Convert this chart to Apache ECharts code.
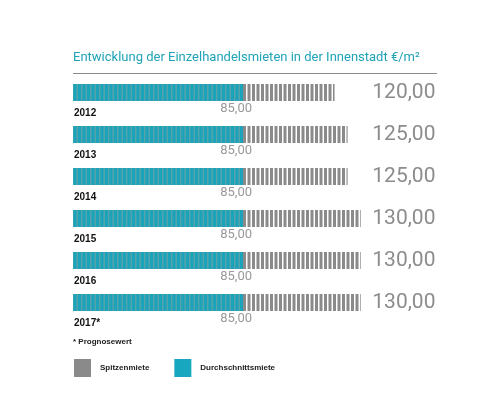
<!DOCTYPE html>
<html><head><meta charset="utf-8">
<script src="https://cdn.jsdelivr.net/npm/echarts@6/dist/echarts.min.js"></script>
<style>html,body{margin:0;padding:0;background:#fff}#c{width:488px;height:395px}</style>
</head><body><div id="c"></div>
<script>
const years = ['2012', '2013', '2014', '2015', '2016', '2017*'];
const spitzenmiete = [120, 125, 125, 130, 130, 130];
const durchschnittsmiete = [85, 85, 85, 85, 85, 85];
const titleText = 'Entwicklung der Einzelhandelsmieten in der Innenstadt €/m²';
const noteText = '* Prognosewert';

const fmt = v => v.toFixed(2).replace('.', ',');

function stripes(bg, fg, w) {
  const c = document.createElement('canvas');
  c.width = 9; c.height = 20;
  const g = c.getContext('2d');
  if (bg) { g.fillStyle = bg; g.fillRect(0, 0, 9, 20); }
  g.fillStyle = fg;
  g.fillRect(0, 0, w, 20);
  g.fillRect(4.5, 0, w, 20);
  return { image: c, repeat: 'repeat' };
}
const grayPat = stripes(null, '#8a8a8a', 3);
const tealPat = stripes('#1ba3b9', '#5aa2ab', 1.4);

const chart = echarts.init(document.getElementById('c'), null, { renderer: 'canvas' });
chart.setOption({
  backgroundColor: '#fff',
  animation: false,
  title: {
    text: titleText, left: 73, top: 51, padding: 0,
    textStyle: { color: '#1fa3b6', fontSize: 13, fontWeight: 'normal', fontFamily: 'Roboto' }
  },
  grid: { left: 73, top: 71.5, height: 252, width: 290.3 },
  xAxis: { type: 'value', min: 20, max: 131, show: false },
  yAxis: [
    { type: 'category', data: years, inverse: true, show: false },
    {
      type: 'category', data: spitzenmiete.map(fmt), inverse: true, position: 'right',
      axisLine: { show: false }, axisTick: { show: false }, splitLine: { show: false },
      axisLabel: { margin: 9, fontSize: 21, color: '#8c8c8c', fontFamily: 'Roboto' }
    }
  ],
  legend: {
    left: 74, top: 359, padding: 0, itemWidth: 17, itemHeight: 18, itemGap: 25, icon: 'rect',
    textStyle: { fontSize: 8, fontWeight: 'bold', color: '#222', fontFamily: 'Liberation Sans', padding: [0, 0, 0, 4] },
    data: [
      { name: 'Spitzenmiete', itemStyle: { color: '#8a8a8a' } },
      { name: 'Durchschnittsmiete', itemStyle: { color: '#17a7bf' } }
    ]
  },
  graphic: [
    { type: 'line', shape: { x1: 73, y1: 73.5, x2: 437, y2: 73.5 }, style: { stroke: '#8a8a8a', lineWidth: 1 } },
    { type: 'text', left: 73, top: 338, style: { text: noteText, fontSize: 8, fontWeight: 'bold', fill: '#222', fontFamily: 'Liberation Sans' } }
  ],
  series: [
    {
      name: 'Spitzenmiete', type: 'bar', yAxisIndex: 0, data: spitzenmiete, barWidth: 17, barGap: '-100%',
      itemStyle: { color: grayPat },
      label: {
        show: true, position: [1, 29], align: 'left', verticalAlign: 'middle',
        formatter: p => years[p.dataIndex], fontSize: 10, fontWeight: 'bold', color: '#111', fontFamily: 'Liberation Sans'
      }
    },
    {
      name: 'Durchschnittsmiete', type: 'bar', yAxisIndex: 0, data: durchschnittsmiete, barWidth: 17,
      itemStyle: { color: tealPat },
      label: {
        show: true, position: ['100%', '100%'], align: 'right', verticalAlign: 'middle', offset: [9, 8],
        formatter: p => fmt(p.value), fontSize: 13, color: '#999', fontFamily: 'Roboto'
      }
    }
  ]
});
</script></body></html>
